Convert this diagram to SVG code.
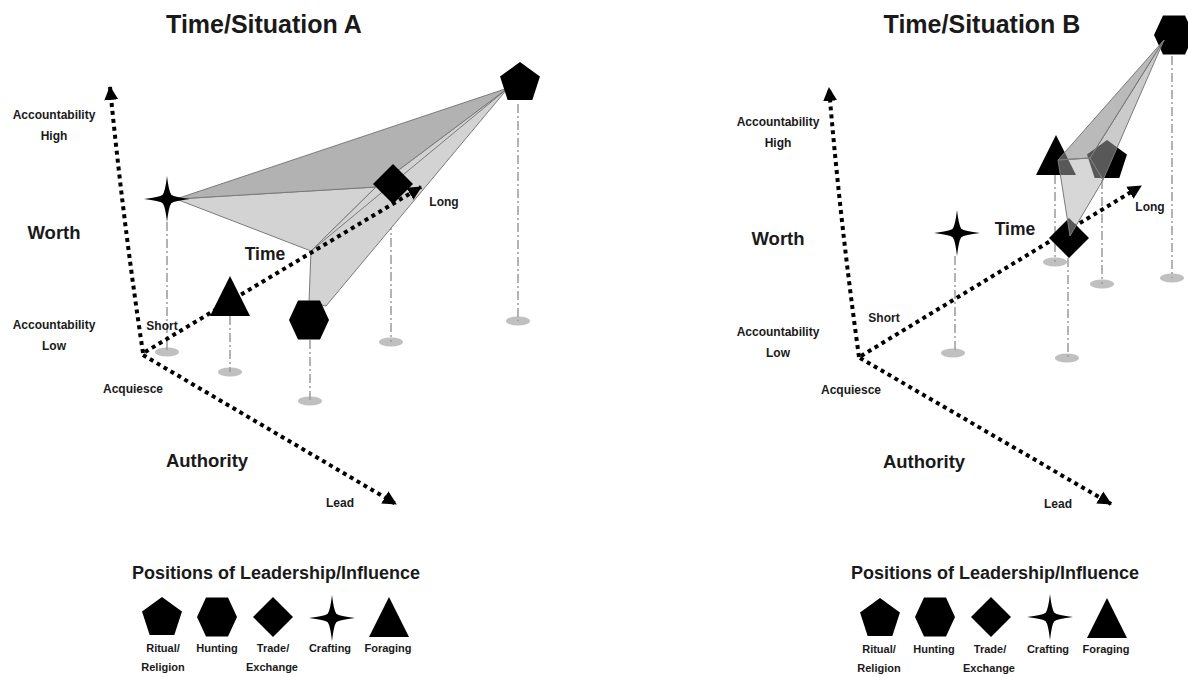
<svg xmlns="http://www.w3.org/2000/svg" xmlns:xlink="http://www.w3.org/1999/xlink" width="1188" height="677" viewBox="0 0 1188 677">
<style>
text{font-family:"Liberation Sans",Arial,sans-serif;font-weight:bold;fill:#1a1a1a;text-anchor:middle}
.title{font-size:25px}
.big{font-size:18.5px}
.mid{font-size:17.5px}
.sm{font-size:12px}
.leg{font-size:18px}
.lab{font-size:11px}
.axis{fill:none;stroke:#000;stroke-width:4;stroke-dasharray:4 4}
.drop{fill:none;stroke:#9a9a9a;stroke-width:1.5;stroke-dasharray:9 3 2 3}
.foot{fill:#c0c0c0}
.shape{fill:#000}
.edge{stroke:#7a7a7a;stroke-width:1;stroke-linejoin:round}
</style>
<defs>
<marker id="arr" markerUnits="userSpaceOnUse" markerWidth="16" markerHeight="16" viewBox="0 -8 16 16" refX="13" refY="0" orient="auto">
<path d="M0,-7 L14,0 L0,7 Z" fill="#000"/>
</marker>
<polygon id="pent" points="0,-21 19.97,-6.49 12.34,16.99 -12.34,16.99 -19.97,-6.49"/>
<polygon id="hex" points="-20,0 -11,-19.5 11,-19.5 20,0 11,19.5 -11,19.5"/>
<polygon id="dia" points="0,-20 20,0 0,20 -20,0"/>
<path id="star" d="M0,-23 Q1.8,-7.5 4.3,-4.3 Q7.5,-1.8 23,0 Q7.5,1.8 4.3,4.3 Q1.8,7.5 0,23 Q-1.8,7.5 -4.3,4.3 Q-7.5,1.8 -23,0 Q-7.5,-1.8 -4.3,-4.3 Q-1.8,-7.5 0,-23 Z"/>
<polygon id="tri" points="0,-20 20,20 -20,20"/>
</defs>

<!-- Titles -->
<text class="title" x="264" y="33">Time/Situation A</text>
<text class="title" x="982" y="33">Time/Situation B</text>

<!-- ===== Panel A ===== -->
<g id="panelA-footprints">
<ellipse class="foot" cx="518" cy="321" rx="12" ry="4.5"/>
<ellipse class="foot" cx="391" cy="342" rx="12" ry="4.5"/>
<ellipse class="foot" cx="167" cy="352" rx="12" ry="4.5"/>
<ellipse class="foot" cx="230" cy="372" rx="12" ry="4.5"/>
<ellipse class="foot" cx="310" cy="401" rx="12" ry="4.5"/>
<path class="drop" d="M518,104 V321 M391,204 V342 M167,222 V352 M230,316 V372 M310,340 V401"/>
</g>
<g id="panelA-surface">
<polygon class="edge" fill="#d3d3d3" points="176,199 376,187 311,251"/>
<polygon class="edge" fill="#d3d3d3" points="311,251 376,187 508,88 326,306 309,302"/>
<polygon class="edge" fill="#b2b2b2" points="176,199 508,88 376,187"/>
<path class="edge" fill="none" d="M311,251 L508,88"/>
</g>
<g id="connectorsA">
<path class="axis" d="M143,353 Q123,220 110,87" marker-end="url(#arr)"/>
<path class="axis" d="M145,352 L421,187" marker-end="url(#arr)"/>
<path class="axis" d="M143,355 L396,504" marker-end="url(#arr)"/>
</g>
<g id="A-ritual"><use href="#pent" class="shape" x="520" y="83"/></g>
<g id="A-trade"><use href="#dia" class="shape" x="393" y="184"/></g>
<g id="A-crafting"><use href="#star" class="shape" x="167" y="199"/></g>
<g id="A-foraging"><use href="#tri" class="shape" x="230" y="296"/></g>
<g id="A-hunting"><use href="#hex" class="shape" x="309" y="320"/></g>
<g id="panelA-labels">
<text class="sm" x="54" y="119">Accountability</text>
<text class="sm" x="54" y="140">High</text>
<text class="big" x="54" y="239">Worth</text>
<text class="sm" x="54" y="329">Accountability</text>
<text class="sm" x="54" y="350">Low</text>
<text class="sm" x="162" y="330">Short</text>
<text class="sm" x="133" y="393">Acquiesce</text>
<text class="big" x="207" y="467">Authority</text>
<text class="sm" x="340" y="507">Lead</text>
<text class="mid" x="265" y="260">Time</text>
<text class="sm" x="444" y="206">Long</text>
</g>

<!-- Legend A -->
<g id="legendA">
<text class="leg" x="276" y="579">Positions of Leadership/Influence</text>
<use href="#pent" class="shape" x="162" y="618"/>
<use href="#hex" class="shape" x="217" y="617"/>
<use href="#dia" class="shape" x="273" y="617"/>
<use href="#star" class="shape" x="332" y="618"/>
<use href="#tri" class="shape" x="389" y="617"/>
<text class="lab" x="163" y="652">Ritual/</text>
<text class="lab" x="163" y="671">Religion</text>
<text class="lab" x="217" y="652">Hunting</text>
<text class="lab" x="273" y="652">Trade/</text>
<text class="lab" x="272" y="671">Exchange</text>
<text class="lab" x="330" y="652">Crafting</text>
<text class="lab" x="388" y="652">Foraging</text>
</g>

<!-- ===== Panel B ===== -->
<g id="panelB-footprints">
<ellipse class="foot" cx="953" cy="353" rx="12" ry="4.5"/>
<ellipse class="foot" cx="1067" cy="358" rx="12" ry="4.5"/>
<ellipse class="foot" cx="1055" cy="262" rx="12" ry="4.5"/>
<ellipse class="foot" cx="1102" cy="284" rx="12" ry="4.5"/>
<ellipse class="foot" cx="1172" cy="278" rx="12" ry="4.5"/>
<path class="drop" d="M955,256 V353 M1068,258 V358 M1055,175 V262 M1102,180 V284 M1172,56 V278"/>
</g>
<g id="connectorsB">
<path class="axis" d="M859,357 Q840,220 829,88" marker-end="url(#arr)"/>
<path class="axis" d="M861,356 L1141,186" marker-end="url(#arr)"/>
<path class="axis" d="M860,358 L1111,504" marker-end="url(#arr)"/>
</g>
<g id="B-hunting"><use href="#hex" class="shape" x="1174" y="35"/></g>
<g id="B-foraging"><use href="#tri" class="shape" x="1056" y="155"/></g>
<g id="B-ritual"><use href="#pent" class="shape" x="1107" y="161"/></g>
<g id="B-trade"><use href="#dia" class="shape" x="1069" y="238"/></g>
<g id="B-crafting"><use href="#star" class="shape" x="957" y="233"/></g>
<g id="panelB-surface">
<polygon class="edge" fill="#b0b0b0" fill-opacity="0.5" points="1058,160 1090,158 1103,180 1070,236"/>
<polygon class="edge" fill="#a0a0a0" fill-opacity="0.55" points="1164,40 1090,158 1103,180"/>
<polygon class="edge" fill="#8c8c8c" fill-opacity="0.6" points="1164,40 1058,160 1090,158"/>
</g>
<g id="panelB-labels">
<text class="sm" x="778" y="126">Accountability</text>
<text class="sm" x="778" y="147">High</text>
<text class="big" x="778" y="245">Worth</text>
<text class="sm" x="778" y="336">Accountability</text>
<text class="sm" x="778" y="357">Low</text>
<text class="sm" x="884" y="322">Short</text>
<text class="sm" x="851" y="394">Acquiesce</text>
<text class="big" x="924" y="468">Authority</text>
<text class="sm" x="1058" y="508">Lead</text>
<text class="mid" x="1015" y="235">Time</text>
<text class="sm" x="1150" y="211">Long</text>
</g>

<!-- Legend B -->
<g id="legendB">
<text class="leg" x="995" y="579">Positions of Leadership/Influence</text>
<use href="#pent" class="shape" x="880" y="619"/>
<use href="#hex" class="shape" x="935" y="617"/>
<use href="#dia" class="shape" x="991" y="617"/>
<use href="#star" class="shape" x="1050" y="617"/>
<use href="#tri" class="shape" x="1107" y="618"/>
<text class="lab" x="879" y="653">Ritual/</text>
<text class="lab" x="879" y="672">Religion</text>
<text class="lab" x="934" y="653">Hunting</text>
<text class="lab" x="990" y="653">Trade/</text>
<text class="lab" x="989" y="672">Exchange</text>
<text class="lab" x="1048" y="653">Crafting</text>
<text class="lab" x="1106" y="653">Foraging</text>
</g>
</svg>
